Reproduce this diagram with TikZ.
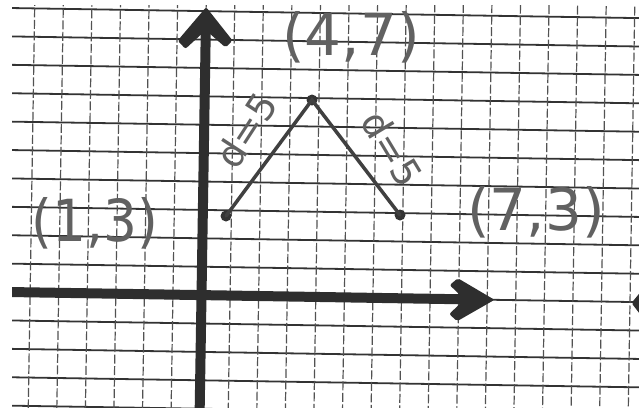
\documentclass[tikz,border=0pt]{standalone}
\usepackage{fontspec}
\newfontfamily\handfont{DejaVu Sans}
\begin{document}
\begin{tikzpicture}[x=1pt,y=-1pt,
  gridh/.style={line width=1.8pt, draw=black!80},
  gridv/.style={line width=1.2pt, draw=black!68, dash pattern=on 9pt off 2.5pt},
  axisline/.style={line width=10pt, draw=black!82},
  axishead/.style={fill=black!82, rounded corners=2pt},
  seg/.style={line width=3.5pt, draw=black!75, line cap=round},
  dot/.style={circle, fill=black!80, inner sep=0pt, minimum size=11pt},
  coordlabel/.style={text=black!62, inner sep=0pt, font=\handfont\fontsize{58}{58}\selectfont},
  distlabel/.style={text=black!62, inner sep=0pt, font=\handfont\fontsize{38}{38}\selectfont}]
\useasboundingbox (0,0) rectangle (639,407);
\fill[white] (0,0) rectangle (639,407);
\begin{scope}
  \clip (12,5) rectangle (639,407);
  \begin{scope}[rotate around={-0.92:(320,204)}]
    \foreach \hrow in {0,...,14} {
      \draw[gridh] (0,{13+28.4*\hrow}) -- (660,{13+28.4*\hrow});
    }
    \foreach \vcol in {0,...,23} {
      \draw[gridv] ({3+28.57*\vcol},-10) -- ({3+28.57*\vcol},420);
    }
    % axes
    \coordinate (xstart) at (0,297);
    \coordinate (xend) at (472,297);
    \coordinate (ystart) at (203,420);
    \coordinate (yend) at (203,30);
    \draw[axisline] (xstart) -- (xend);
    \draw[axisline] (ystart) -- (yend);
    \fill[axishead] (496,297) -- (459,276) -- (451,283) -- (466,297) -- (451,312) -- (459,319) -- cycle;
    \fill[axishead] (203,9) -- (230,42) -- (223,49) -- (203,32) -- (183,51) -- (175,43) -- cycle;
    \fill[axishead] (645,283) -- (633,298) -- (645,313) -- cycle;
  \end{scope}
\end{scope}
% points and segments
\node[dot] (p13) at (226,216) {};
\node[dot] (p47) at (312,100) {};
\node[dot] (p73) at (400,215) {};
\draw[seg] (p13.center) -- (p47.center) -- (p73.center);
% labels
\node[coordlabel] (l47) at (351,37) {(4,7)};
\node[coordlabel] (l13) at (95,223) {\scalebox{0.92}[1]{(1,3)}};
\node[coordlabel] (l73) at (536,212) {(7,3)};
\node[distlabel, rotate=57] (d1) at (246,130) {d=5};
\node[distlabel, rotate=-59] (d2) at (392,149) {d=5};
\end{tikzpicture}
\end{document}
